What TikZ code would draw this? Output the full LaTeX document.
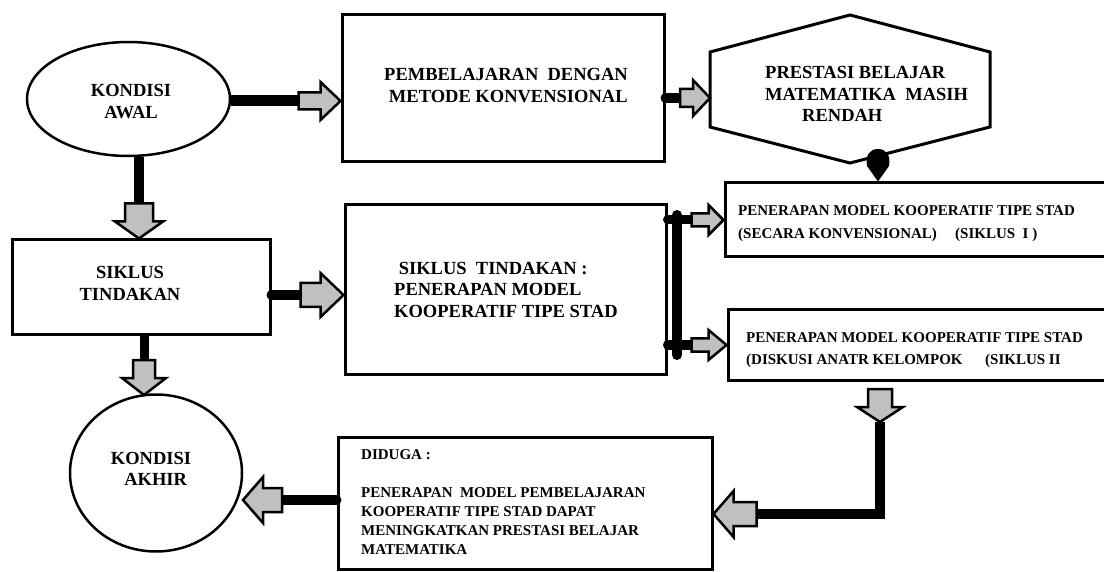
\documentclass[tikz,border=0pt]{standalone}
\usepackage{fontspec}
\setmainfont{Liberation Serif}
\usetikzlibrary{shapes.geometric}
\definecolor{arrowgray}{RGB}{192,192,192}
\tikzset{
  box/.style={draw, line width=3pt, inner sep=0pt},
  oval/.style={draw, ellipse, line width=2.5pt, inner sep=0pt},
  big/.style={font=\fontsize{18.5}{21.5}\selectfont\bfseries, inner sep=0pt},
  small/.style={font=\fontsize{15}{22.5}\selectfont\bfseries, inner sep=0pt},
  conn/.style={line width=10pt, line cap=round},
  arrowbox/.style={draw, fill=arrowgray, line width=2.5pt, line join=miter},
  pics/barrow/.style n args={4}{code={
    \draw[arrowbox] (-#1,-#4) -- (-#2,-#4) -- (-#2,-#3) -- (0,0) -- (-#2,#3) -- (-#2,#4) -- (-#1,#4) -- cycle;}},
}
\begin{document}
\begin{tikzpicture}[x=1pt,y=-1pt]
\clip (0,0) rectangle (1104,572);
\fill[white] (0,0) rectangle (1104,572);

% ---------- nodes (text nodes: base = baseline of last line) ----------
\node[oval, minimum width=203pt, minimum height=114pt] (awal) at (128.5,99) {};
\node[big, align=center, anchor=base] (tawal) at (131,118.5) {KONDISI\\AWAL};

\node[box, minimum width=322pt, minimum height=147pt] (box1) at (503,88.5) {};
\node[big, align=center, anchor=base] (tbox1) at (506,102.5) {PEMBELAJARAN\ \ DENGAN\\\ METODE KONVENSIONAL};

\coordinate (h1) at (850,15);
\coordinate (h2) at (990,52);
\coordinate (h3) at (990,127);
\coordinate (h4) at (850,163);
\coordinate (h5) at (710,127);
\coordinate (h6) at (710,52);
\draw[line width=3pt, line join=miter] (h1) -- (h2) -- (h3) -- (h4) -- (h5) -- (h6) -- cycle;
\node[big, align=left, anchor=base west] (thex) at (765,122) {PRESTASI BELAJAR\\MATEMATIKA\ \ MASIH\\\hspace*{37pt}RENDAH};

\node[box, minimum width=387pt, minimum height=74pt] (p1) at (918.5,220) {};
\node[small, align=left, anchor=base west] (tp1) at (738,238.5) {PENERAPAN MODEL KOOPERATIF TIPE STAD\\(SECARA KONVENSIONAL)};
\node[small, anchor=base west] (tp1b) at (955,238.5) {(SIKLUS\ \ I )};

\node[box, minimum width=384pt, minimum height=70pt] (p2) at (920,345) {};
\node[small, align=left, anchor=base west] (tp2) at (746,364.5) {PENERAPAN MODEL KOOPERATIF TIPE STAD\\(DISKUSI ANATR KELOMPOK};
\node[small, anchor=base west] (tp2b) at (985,364.5) {(SIKLUS II};

\node[box, minimum width=258pt, minimum height=95pt] (sik) at (141,287.5) {};
\node[big, align=center, anchor=base] (tsik) at (130,300.5) {SIKLUS\\TINDAKAN};

\node[box, minimum width=321pt, minimum height=169pt] (box2) at (505.5,289.5) {};
\node[big, align=left, anchor=base west] (tbox2) at (394,317) {\ SIKLUS\ \ TINDAKAN :\\PENERAPAN MODEL\\KOOPERATIF TIPE STAD};

\node[oval, minimum width=172pt, minimum height=157pt] (akhir) at (156,473) {};
\node[big, align=center, anchor=base] (takhir) at (151,485.5) {KONDISI\\\ \ AKHIR};

\node[box, minimum width=374pt, minimum height=132pt] (dug) at (525,503) {};
\node[font=\fontsize{15}{19}\selectfont\bfseries, inner sep=0pt, align=left, anchor=base west] (tdug) at (361,554)
  {DIDUGA :\\[19pt]PENERAPAN\ \ MODEL PEMBELAJARAN\\KOOPERATIF TIPE STAD DAPAT\\MENINGKATKAN PRESTASI BELAJAR\\MATEMATIKA};

% ---------- connector coordinates ----------
\coordinate (a1) at (300,101);
\coordinate (a2) at (682,98);
\coordinate (a3) at (139,202);
\coordinate (a4) at (305,295);
\coordinate (a5) at (144,360);
\coordinate (k1) at (677,220);
\coordinate (k2) at (677,345);
\coordinate (b6) at (693,220);
\coordinate (b7) at (693,345);
\coordinate (t8) at (880,422);
\coordinate (e8) at (880,514);
\coordinate (a9) at (755,514);
\coordinate (a10) at (282,500);
\coordinate (t10) at (243,500);
\coordinate (t5) at (144,395);

% ---------- thick lines ----------
\draw[line width=11pt] (awal.east |- a1) -- (a1);
\draw[conn] (box1.east |- a2) -- (a2);
\draw[line width=10pt] (awal.south -| a3) -- (a3);
\draw[conn] (sik.east |- a4) -- (a4);
\draw[line width=9pt] (sik.south -| a5) -- (a5);
\draw[line width=10pt, line cap=round] (677,215) -- (677,355);
\draw[line width=9pt, line cap=round] (box2.east |- k1) -- (b6);
\draw[line width=9pt, line cap=round] (box2.east |- k2) -- (b7);
\draw[line width=10pt, line join=miter] (t8) -- (e8) -- (a9);
\draw[line width=10pt, line cap=round] (dug.west |- a10) -- (a10);
\fill (p1.north -| 878,0) -- (867,166) .. controls (865,155) and (870,149) .. (878,149) .. controls (886,149) and (891,155) .. (889,166) -- cycle;

% ---------- block arrows ----------
\pic at (box1.west |- a1) {barrow={42}{20}{19}{8.5}};
\pic at (h6 |- a2) {barrow={30}{17}{18}{9}};
\pic[rotate=-90] at (sik.north -| a3) {barrow={35}{17}{24}{14}};
\pic at (box2.west |- a4) {barrow={43}{23}{22}{12}};
\pic[rotate=-90] at (t5) {barrow={35}{17}{22}{11}};
\pic at (p1.west |- b6) {barrow={32}{15}{15}{6.5}};
\pic at (p2.west |- b7) {barrow={35}{18}{15}{6.5}};
\pic[rotate=-90] at (t8) {barrow={33}{15}{23}{12}};
\pic[rotate=180] at (dug.east |- a9) {barrow={43}{20}{23}{12}};
\pic[rotate=180] at (t10) {barrow={39}{20}{23}{12}};
\end{tikzpicture}
\end{document}
